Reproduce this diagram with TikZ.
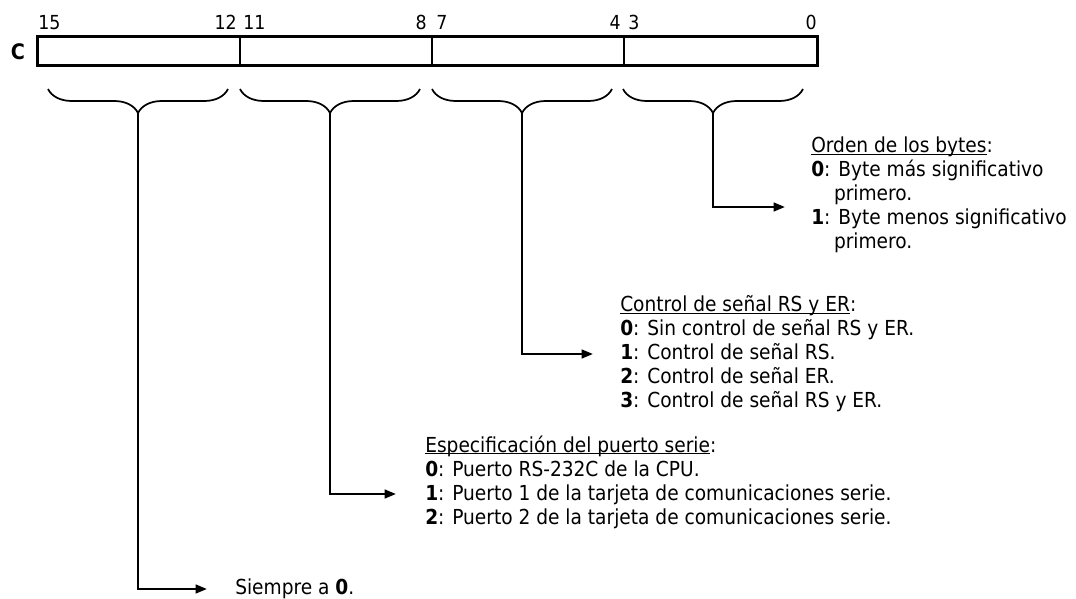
\documentclass[tikz,border=0pt]{standalone}
\usepackage{fontspec}
\setmainfont{DejaVu Sans Condensed}
\usetikzlibrary{arrows.meta, decorations.pathreplacing, positioning}

% underline close to the baseline
\newcommand{\headul}[1]{\setbox0\hbox{#1}\rlap{\rule[-1.6pt]{\wd0}{0.7pt}}\box0}

\tikzset{
  bitlabel/.style={font=\fontsize{14.5}{16}\selectfont, inner sep=0pt},
  regbrace/.style={decorate, decoration={brace, mirror, amplitude=18pt}, line width=1.3pt},
  link/.style={-{Triangle[length=8.5pt, width=6.5pt]}, line width=1.7pt},
  desc/.style={font=\fontsize{15.5}{18}\selectfont, align=left, anchor=west, inner sep=0pt},
}

\begin{document}
\begin{tikzpicture}[x=0.75pt, y=-0.75pt]
\useasboundingbox (0,0) rectangle (1076,599);

% Register
\node[font=\bfseries\fontsize{16}{18}\selectfont, inner sep=0pt] (reg) at (18,52) {C};
\draw[line width=2.25pt] (37,37) rectangle (817,66);
\foreach \x in {240,432,624}
    \draw[line width=1.4pt] (\x,37) -- (\x,66);

% Bit numbers
\foreach \lbl/\x/\anc [count=\i] in {15/38/west, 12/237/east, 11/243/west, 8/427/east,
        7/436/west, 4/621/east, 3/628/west, 0/817/east} {
    \node[bitlabel, anchor=base \anc] (bit\i) at (\x,30) {\lbl};
}

% Braces
\foreach \a/\b [count=\i] in {48/228, 240/420, 432/612, 623/803} {
    \draw[regbrace] (\a,89) -- (\b,89);
    \coordinate (tip\i) at ({(\a+\b)/2},113);
}

% Descriptions
\node[desc] (siempre) at (235,589) {Siempre a \textbf{0}.};
\node[desc] (puerto) at (425,482) {\headul{Especificación del puerto serie}:\\
    \textbf{0}: Puerto RS-232C de la CPU.\\
    \textbf{1}: Puerto 1 de la tarjeta de comunicaciones serie.\\
    \textbf{2}: Puerto 2 de la tarjeta de comunicaciones serie.};
\node[desc] (senal) at (620,354) {\headul{Control de señal RS y ER}:\\
    \textbf{0}: Sin control de señal RS y ER.\\
    \textbf{1}: Control de señal RS.\\
    \textbf{2}: Control de señal ER.\\
    \textbf{3}: Control de señal RS y ER.};
\node[desc] (bytes) at (811,195) {\headul{Orden de los bytes}:\\
    \textbf{0}: Byte más significativo\\
    \hspace*{1.1em}primero.\\
    \textbf{1}: Byte menos significativo\\
    \hspace*{1.1em}primero.};

% Connectors
\draw[link] (tip1) |- ([xshift=-21pt]siempre.west);
\draw[link] (tip2) |- ([xshift=-21.75pt, yshift=-9pt]puerto.west);
\draw[link] (tip3) |- ([xshift=-20.25pt]senal.west);
\draw[link] (tip4) |- ([xshift=-19.5pt, yshift=-9pt]bytes.west);
\end{tikzpicture}
\end{document}
